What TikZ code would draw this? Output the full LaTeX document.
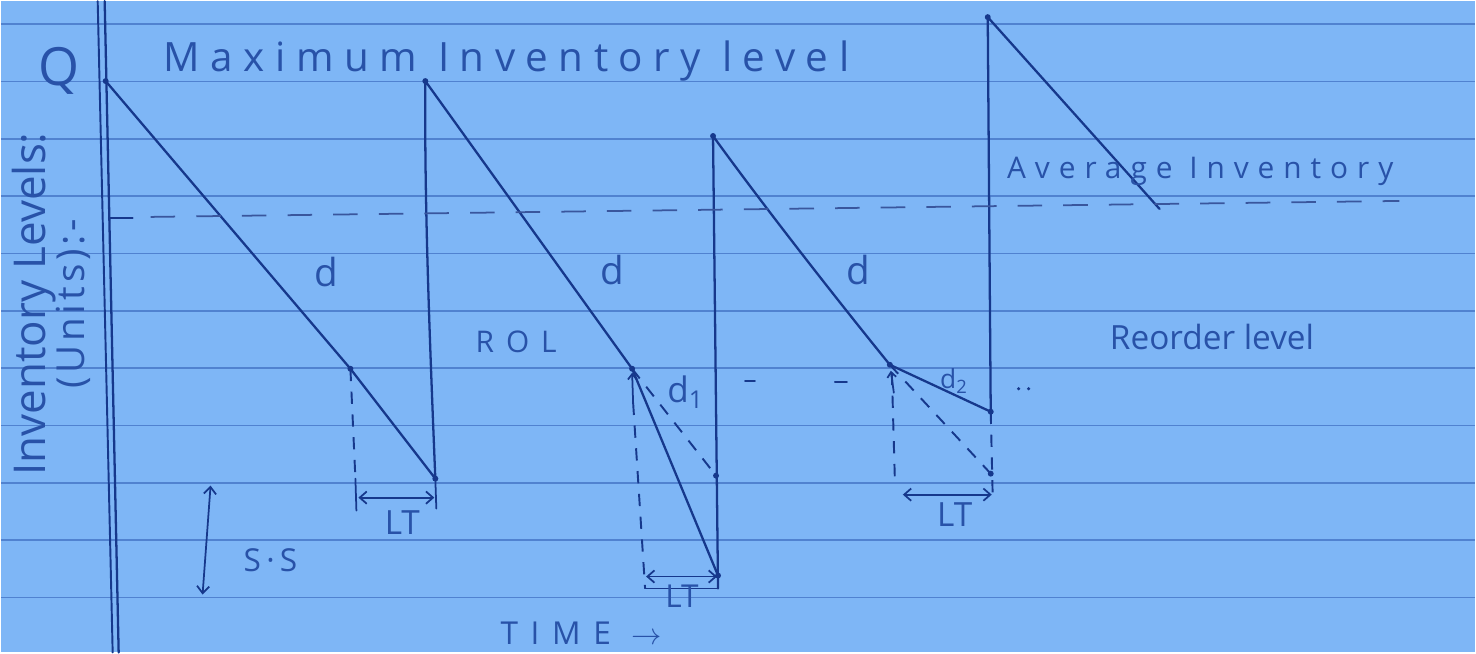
\documentclass[tikz,border=0pt]{standalone}
\usepackage{fontspec}
\usepackage{tikz}
\usetikzlibrary{arrows.meta}
\newfontfamily\handfont{Open Sans}
\newcommand\penfont[1]{\handfont\fontsize{#1}{#1}\selectfont}
\definecolor{paperblue}{RGB}{126,182,246}
\definecolor{ruleblue}{RGB}{80,130,208}
\definecolor{inkblue}{RGB}{22,56,140}
\definecolor{penblue}{RGB}{40,82,168}
\tikzset{
  ruled/.style={draw=ruleblue, line width=0.9pt},
  ink/.style={draw=inkblue, line width=1.3pt, line cap=round, line join=round},
  dashink/.style={draw=inkblue, line width=1.1pt, dash pattern=on 7pt off 6pt},
  avgdash/.style={draw=inkblue!85, line width=1pt, dash pattern=on 14pt off 12pt},
  ltarrow/.style={draw=inkblue, line width=1pt,
    {Straight Barb[length=4pt,width=7pt]}-{Straight Barb[length=4pt,width=7pt]}},
  hand/.style={text=penblue, inner sep=0pt}
}
\begin{document}
\begin{tikzpicture}[x=0.02cm,y=-0.02cm]
  % Paper and ruling
  \fill[paperblue] (0,0) rectangle (1476,652);
  \foreach \n in {0,...,10}
    \draw[ruled] (0,23+57.4*\n) -- (1476,23+57.4*\n);
  \draw[ink, line width=1.1pt] (97,0) -- (112,652);
  \draw[ink] (104,0) -- (118,652);

  % Key points of the stock curve
  \coordinate (q) at (105,80);
  \coordinate (rolA) at (350,368);
  \coordinate (lowA) at (435,478);
  \coordinate (peakB) at (425,80);
  \coordinate (rolB) at (632,368);
  \coordinate (lowB) at (718,575);
  \coordinate (expB) at (716,475);
  \coordinate (baseB) at (718,588);
  \coordinate (peakC) at (713,135);
  \coordinate (rolC) at (890,364);
  \coordinate (lowC) at (991,411);
  \coordinate (expC) at (991,473);
  \coordinate (peakD) at (988,16);
  \coordinate (endD) at (1160,208);

  % Saw-tooth
  \draw[ink] (q) -- (rolA) -- (lowA) .. controls (429,330) and (424,200) .. (peakB) -- (rolB) -- (lowB);
  \draw[ink] (baseB) -- (peakC) .. controls (760,200) and (830,290) .. (rolC) -- (lowC) -- (peakD) -- (endD);

  % Expected demand (dashed)
  \draw[dashink] (rolB) -- (expB);
  \draw[dashink] (rolC) -- (expC);

  % Lead time drops
  \draw[dashink] (rolA) -- (355,478);
  \draw[dashink] (633,402) -- (645,588);
  \draw[ink, line width=1pt, -{Straight Barb[length=3pt,width=5pt]}] (633,402) -- (632,372);
  \draw[dashink] (892,372) -- (895,478);
  \draw[ink, line width=1pt, -{Straight Barb[length=3pt,width=5pt]}] (894,392) -- (891,370);
  \draw[dashink] (lowC) -- (993,497);

  % LT arrows
  \draw[ink, line width=1pt] (355,478) -- (356,510);
  \draw[ink, line width=1pt] (lowA) -- (436,508);
  \draw[ltarrow] (358,497) -- (434,497);
  \draw[ltarrow] (646,576) -- (717,576);
  \draw[ink, line width=1pt] (645,588) -- (baseB);
  \draw[ltarrow] (903,494) -- (992,494);

  % Average inventory
  \draw[ink, line width=1pt] (108,217) -- (132,217);
  \draw[avgdash] (150,216) -- (1400,200);

  % Safety stock
  \draw[ltarrow] (210,485) -- (202,594);

  % Dots
  \foreach \p in {q,rolA,lowA,peakB,rolB,expB,lowB,peakC,rolC,lowC,expC,peakD}
    \fill[inkblue] (\p) circle (1.7pt);
  \draw[ink, line width=1pt] (745,380) -- (755,380);
  \draw[ink, line width=1pt] (835,381) -- (847,381);
  \fill[inkblue] (1019,388) circle (1pt);
  \fill[inkblue] (1029,388) circle (1pt);

  % Labels
  \node[hand, font=\penfont{30}, anchor=base] (qlbl) at (58,84) {Q};
  \node[hand, font=\penfont{23}, anchor=base west] (maxlbl) at (163,70)
    {\addfontfeature{LetterSpace=26}Maximum Inventory level};
  \node[hand, font=\penfont{17}, anchor=base west] (avglbl) at (1007,178)
    {\addfontfeature{LetterSpace=30}Average Inventory};
  \node[hand, font=\penfont{19}, anchor=base west] (rollbl) at (1110,349) {Reorder level};
  \node[hand, font=\penfont{17}, anchor=base west] (rolshort) at (475,352)
    {\addfontfeature{LetterSpace=40}ROL};
  \node[hand, font=\penfont{22}, anchor=base] (dA) at (326,286) {d};
  \node[hand, font=\penfont{22}, anchor=base] (dB) at (612,284) {d};
  \node[hand, font=\penfont{22}, anchor=base] (dC) at (858,284) {d};
  \node[hand, font=\penfont{20}, anchor=base west] (dOne) at (667,402) {d\textsubscript{1}};
  \node[hand, font=\penfont{15}, anchor=base west] (dTwo) at (940,388) {d\textsubscript{2}};
  \node[hand, font=\penfont{19}, anchor=base] (ltA) at (402,534) {LT};
  \node[hand, font=\penfont{18}, anchor=base] (ltB) at (682,607) {LT};
  \node[hand, font=\penfont{19}, anchor=base] (ltC) at (955,526) {LT};
  \node[hand, font=\penfont{18}, anchor=base] (sslbl) at (270,571) {S\,·\,S};
  \node[hand, font=\penfont{18}, anchor=base west] (timelbl) at (500,644)
    {\addfontfeature{LetterSpace=40}TIME $\rightarrow$};
  \node[hand, font=\penfont{25}, rotate=90, anchor=base] (ylbl) at (45,303) {Inventory Levels:};
  \node[hand, font=\penfont{22}, rotate=90, anchor=base] (unitlbl) at (84,303)
    {\addfontfeature{LetterSpace=10}(Units):-};
\end{tikzpicture}
\end{document}
